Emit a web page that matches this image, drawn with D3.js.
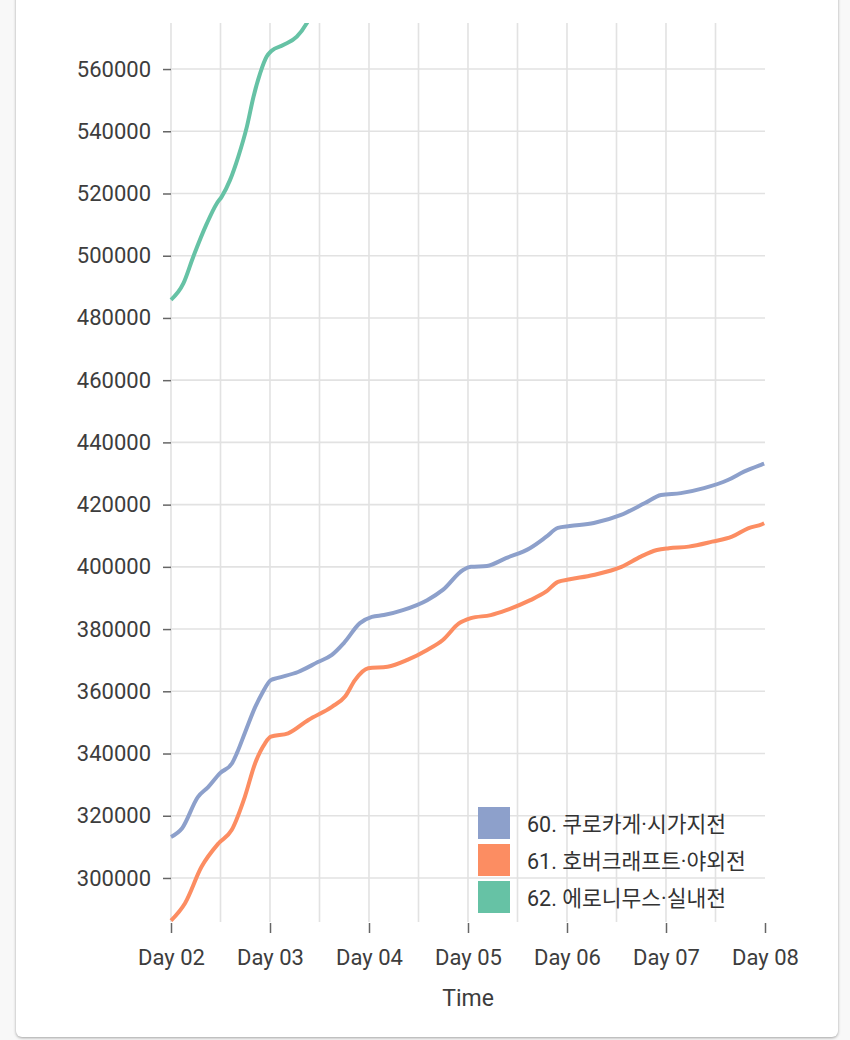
<!DOCTYPE html>
<html>
<head>
<meta charset="utf-8">
<script src="https://cdn.jsdelivr.net/npm/d3@7"></script>
<style>
  body { margin: 0; background: #f8f8f8; font-family: Roboto, "Noto Sans CJK KR", sans-serif; }
  #card {
    position: absolute; left: 16px; top: -10px; width: 822px; height: 1047px;
    background: #fff; border-radius: 6px;
    box-shadow: 0 1px 3px rgba(0,0,0,0.35);
  }
  #chart { position: absolute; left: 0; top: 0; }
</style>
</head>
<body>
<div id="card"></div>
<svg id="chart" width="850" height="1040"></svg>
<script>
// hours after Day 02 00:00, value
const seriesNames = ["60. 쿠로카게·시가지전", "61. 호버크래프트·야외전", "62. 에로니무스·실내전"];
const seriesColors = ["#8da0cb", "#fc8d62", "#66c2a5"];

const kurokageHours = [0, 2.7, 6.5, 9, 11.9, 14.8, 16, 17.9, 20.4, 22.1, 24.2, 25.9, 30.8, 35.6, 39, 41.9, 45.8, 48.7, 51.6, 56.2, 62.1, 65.9, 70.8, 72.7, 76.6, 81.2, 87, 90.9, 93.8, 96.7, 102.5, 109.1, 114.9, 118.8, 123.6, 129.2, 135, 138.9, 143.3, 143.8];
const kurokageValues = [313200, 316000, 326000, 329200, 333700, 336900, 340200, 346600, 354900, 359400, 363600, 364300, 366200, 369400, 371700, 375500, 381900, 383900, 384500, 386100, 389300, 392600, 399000, 400000, 400300, 402800, 406000, 409600, 412500, 413100, 414100, 416700, 420500, 423100, 423700, 425300, 427900, 430600, 432950, 433200];

const hovercraftHours = [0, 3.4, 7.4, 11.5, 14.7, 17.9, 20.4, 22.8, 24.2, 28.4, 33.3, 39, 42.2, 44.6, 47.8, 52.5, 57.3, 62.1, 65.9, 69.8, 72.7, 77.5, 81.3, 87.1, 90.9, 93.8, 96.7, 102.4, 109.2, 113.9, 117.8, 120.7, 125.5, 131.2, 136, 139.9, 143.3, 143.8];
const hovercraftValues = [286300, 291900, 303600, 311100, 315400, 326100, 336900, 343300, 345400, 346500, 350800, 355000, 358300, 363600, 367400, 367900, 370100, 373300, 376500, 381800, 383500, 384500, 386100, 389300, 392000, 395200, 396000, 397400, 400000, 403300, 405400, 406000, 406500, 408100, 409700, 412400, 413700, 414000];

const eronimusHours = [0, 3, 5.4, 8.7, 11.1, 12.3, 14.3, 16.3, 18.4, 20, 21.6, 23.2, 24.4, 27.2, 30.5, 32.9, 34];
const eronimusValues = [485800, 491100, 499700, 510400, 516800, 519000, 524300, 531800, 541500, 551100, 558600, 564000, 565900, 567700, 570400, 574700, 577500];

const yTickValues = d3.range(300000, 560001, 20000);

const dayStart = new Date(2024, 0, 2);
const dayEnd = new Date(2024, 0, 8);
const toDate = h => new Date(dayStart.getTime() + h * 3600 * 1000);

const series = [
  {name: seriesNames[0], color: seriesColors[0], points: kurokageHours.map((h, i) => ({t: toDate(h), v: kurokageValues[i]}))},
  {name: seriesNames[1], color: seriesColors[1], points: hovercraftHours.map((h, i) => ({t: toDate(h), v: hovercraftValues[i]}))},
  {name: seriesNames[2], color: seriesColors[2], points: eronimusHours.map((h, i) => ({t: toDate(h), v: eronimusValues[i]}))}
];

const plot = {left: 171, right: 765, top: 23, bottom: 922};

const x = d3.scaleTime().domain([dayStart, dayEnd]).range([plot.left, plot.right]);
const y = d3.scaleLinear().domain([285850, 574800]).range([plot.bottom, plot.top]);

const svg = d3.select('#chart');

svg.append('defs').append('clipPath').attr('id', 'plotClip')
  .append('rect')
  .attr('x', plot.left - 5).attr('y', plot.top)
  .attr('width', plot.right - plot.left + 10).attr('height', plot.bottom - plot.top);

// grid
const grid = svg.append('g').attr('stroke', '#e2e2e2').attr('stroke-width', 1.6);
grid.selectAll('line.h')
  .data(yTickValues).enter().append('line')
  .attr('class', 'h')
  .attr('x1', plot.left).attr('x2', plot.right)
  .attr('y1', d => y(d)).attr('y2', d => y(d));
grid.selectAll('line.v')
  .data(d3.timeHour.every(12).range(dayStart, dayEnd)).enter().append('line')
  .attr('class', 'v')
  .attr('x1', d => x(d)).attr('x2', d => x(d))
  .attr('y1', plot.top).attr('y2', plot.bottom);

// axes
const yAxis = svg.append('g')
  .attr('transform', `translate(${plot.left},0)`)
  .call(d3.axisLeft(y).tickValues(yTickValues).tickSize(8).tickPadding(12).tickFormat(d3.format('d')));
const xAxis = svg.append('g')
  .attr('transform', `translate(0,${plot.bottom + 1})`)
  .call(d3.axisBottom(x).ticks(d3.timeDay.every(1)).tickSize(10).tickPadding(16).tickFormat(d3.timeFormat('Day %d')));

[yAxis, xAxis].forEach(a => {
  a.select('.domain').remove();
  a.selectAll('.tick line').attr('stroke', '#666').attr('stroke-width', 1.5);
  a.selectAll('.tick text')
    .attr('fill', '#3d3d3d')
    .attr('font-size', '22px')
    .attr('font-family', 'Roboto, sans-serif');
});

svg.append('text')
  .text('Time')
  .attr('x', (plot.left + plot.right) / 2)
  .attr('y', 1006)
  .attr('text-anchor', 'middle')
  .attr('fill', '#3d3d3d')
  .attr('font-size', '23px')
  .attr('font-family', 'Roboto, sans-serif');

// lines
const line = d3.line().x(d => x(d.t)).y(d => y(d.v)).curve(d3.curveMonotoneX);
svg.append('g').attr('clip-path', 'url(#plotClip)')
  .selectAll('path')
  .data(series).enter().append('path')
  .attr('d', d => line(d.points))
  .attr('fill', 'none')
  .attr('stroke', d => d.color)
  .attr('stroke-width', 4)
  .attr('stroke-linejoin', 'round');

// legend
const legend = svg.append('g').attr('transform', 'translate(478,807)');
const items = legend.selectAll('g')
  .data(series).enter().append('g')
  .attr('transform', (d, i) => `translate(0, ${i * 37})`);
items.append('rect')
  .attr('width', 32).attr('height', 32)
  .attr('fill', d => d.color);
items.append('text')
  .text(d => d.name)
  .attr('x', 49)
  .attr('y', 17)
  .attr('dominant-baseline', 'central')
  .attr('fill', '#333')
  .attr('font-size', '21.5px')
  .attr('font-family', 'Roboto, "Noto Sans CJK KR", sans-serif');
</script>
</body>
</html>
